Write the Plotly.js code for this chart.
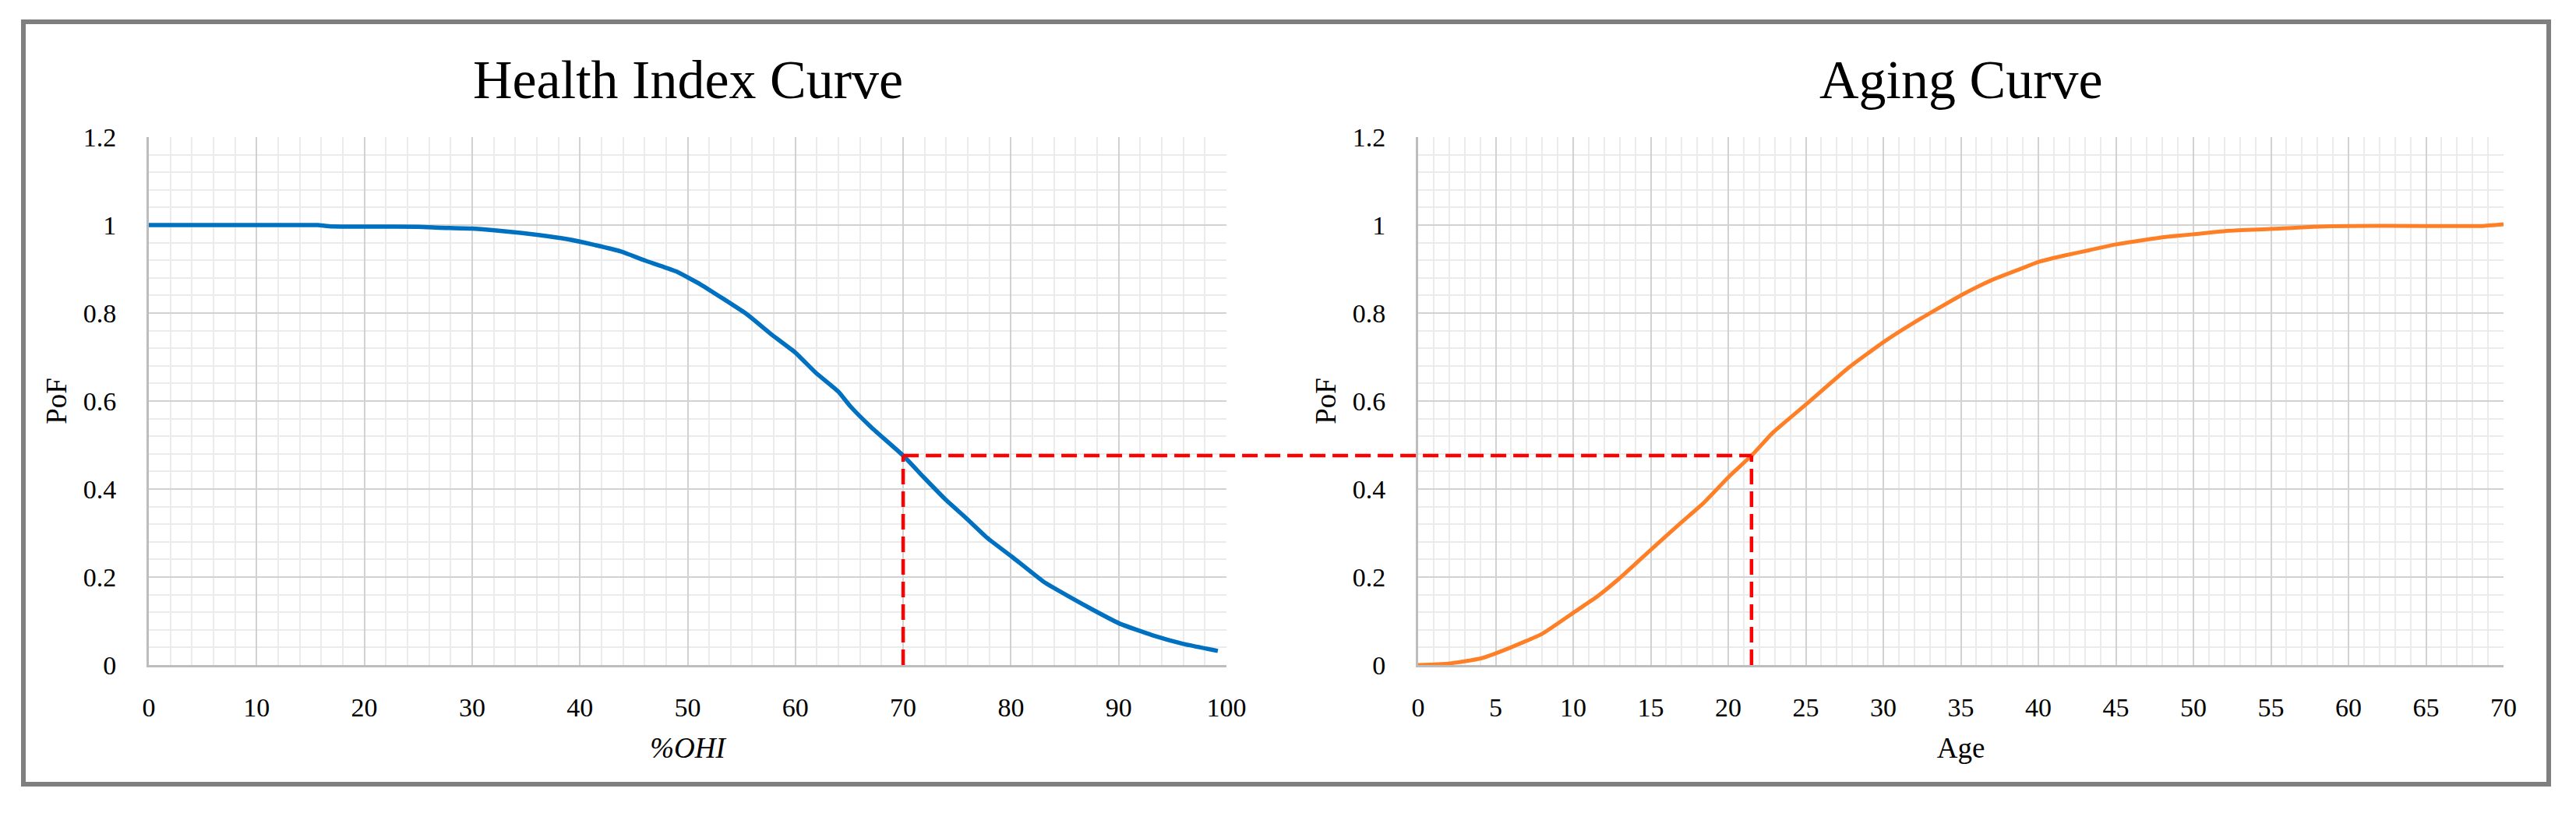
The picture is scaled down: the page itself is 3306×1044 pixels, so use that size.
<!DOCTYPE html>
<html lang="en">
<head>
    <meta charset="UTF-8">
    <title>Health Index Curve and Aging Curve</title>
    <script src="https://cdn.plot.ly/plotly-3.0.1.min.js"></script>
    <style>
        body { margin: 0; background: white; }
        #chart { width: 3306px; height: 1044px; }
    </style>
</head>
<body>
    <div id="chart"></div>
    <script>
        // Health index curve: %OHI vs PoF
        let ohiX = [0, 5, 10, 15, 15.7, 17, 25, 27, 30, 33, 36, 38.8, 41.5, 43.8, 46.1, 48.9, 51.2, 55.4, 57.7, 60,
                    61.9, 64, 65.1, 67.1, 70, 71.9, 73.9, 75.8, 77.8, 80.1, 83, 85.3, 87.5, 90.1, 93.1, 96, 99.2];
        let ohiPoF = [1, 1, 1, 1, 1, 0.997, 0.996, 0.994, 0.992, 0.986, 0.978, 0.968, 0.954, 0.94, 0.919, 0.895, 0.865, 0.799, 0.753, 0.71,
                      0.664, 0.621, 0.588, 0.539, 0.476, 0.427, 0.377, 0.335, 0.289, 0.246, 0.19, 0.157, 0.127, 0.094, 0.068, 0.048, 0.032];

        // Aging curve: Age vs PoF
        let ageX = [0, 1.9, 4.05, 5.7, 8, 10.1, 11.6, 12.95, 15.1, 17, 18.4, 20.1, 21.5, 22.9, 25.1, 27.8, 30.1, 32.3, 35.1,
                    37, 38.9, 40, 41.7, 43.3, 45, 46.8, 48.2, 50, 52.3, 55, 57.7, 60.1, 65, 68.6, 70];
        let agePoF = [0, 0.003, 0.015, 0.036, 0.071, 0.121, 0.157, 0.196, 0.265, 0.325, 0.368, 0.43, 0.476, 0.529, 0.595, 0.677, 0.736, 0.785, 0.842,
                      0.875, 0.901, 0.916, 0.931, 0.943, 0.956, 0.966, 0.973, 0.979, 0.987, 0.991, 0.996, 0.998, 0.998, 0.998, 1.002];

        // reading of the example point
        let ohiPoint = 70, pofPoint = 0.476, agePoint = 21.5;

        let W = 3306, H = 1044;
        let leftDom = [191 / W, 1574 / W];
        let rightDom = [1820 / W, 3213 / W];
        let yDom = [(H - 854) / H, (H - 176) / H];
        let ohiRange = [0, 100], ageRange = [0, 70];

        function toPaper(dom, range, v) {
            return dom[0] + (v - range[0]) / (range[1] - range[0]) * (dom[1] - dom[0]);
        }

        let serif = "Liberation Serif, Times New Roman, serif";
        let tickFont = {family: serif, size: 34, color: "#000"};
        let titleFont = {family: serif, size: 37, color: "#000"};

        function xAxis(dom, range, major, minor, title) {
            return {
                domain: dom, range: range, dtick: major, tick0: 0,
                showgrid: true, gridcolor: "#d2d2d2", gridwidth: 2,
                minor: {dtick: minor, tick0: 0, showgrid: true, gridcolor: "#ebebeb", gridwidth: 2},
                showline: true, linecolor: "#bdbdbd", linewidth: 3,
                zeroline: false, ticks: "", ticklabelstandoff: 22,
                tickfont: tickFont, fixedrange: true,
                title: {text: title, font: titleFont, standoff: 22}
            };
        }

        function yAxis(anchor) {
            return {
                domain: yDom, range: [0, 1.2], dtick: 0.2, tick0: 0, anchor: anchor,
                showgrid: true, gridcolor: "#d2d2d2", gridwidth: 2,
                minor: {dtick: 0.04, tick0: 0, showgrid: true, gridcolor: "#ebebeb", gridwidth: 2},
                showline: true, linecolor: "#bdbdbd", linewidth: 3,
                zeroline: false, ticks: "", ticklabelstandoff: 32,
                tickfont: tickFont, fixedrange: true,
                title: {text: "PoF", font: titleFont, standoff: 10}
            };
        }

        let traces = [
            {x: ohiX, y: ohiPoF, xaxis: "x", yaxis: "y", mode: "lines",
             line: {color: "#0070c0", width: 5.5, shape: "spline", smoothing: 0.4}},
            {x: ageX, y: agePoF, xaxis: "x2", yaxis: "y2", mode: "lines",
             line: {color: "#ff7f27", width: 5, shape: "spline", smoothing: 0.4}}
        ];

        let dashLine = {color: "#ff0000", width: 4.5, dash: "20px,9px"};

        let layout = {
            width: W, height: H,
            margin: {l: 0, r: 0, t: 0, b: 0},
            paper_bgcolor: "white", plot_bgcolor: "white",
            showlegend: false,
            font: {family: serif, color: "#000"},
            xaxis: xAxis(leftDom, ohiRange, 10, 2, "<i>%OHI</i>"),
            yaxis: yAxis("x"),
            xaxis2: xAxis(rightDom, ageRange, 5, 1, "Age"),
            yaxis2: yAxis("x2"),
            annotations: [
                {text: "Health Index Curve", xref: "paper", yref: "paper",
                 x: (leftDom[0] + leftDom[1]) / 2, y: (H - 102) / H, xanchor: "center", yanchor: "middle",
                 showarrow: false, font: {family: serif, size: 70, color: "#000"}},
                {text: "Aging Curve", xref: "paper", yref: "paper",
                 x: (rightDom[0] + rightDom[1]) / 2, y: (H - 102) / H, xanchor: "center", yanchor: "middle",
                 showarrow: false, font: {family: serif, size: 70, color: "#000"}}
            ],
            shapes: [
                // outer frame
                {type: "rect", xref: "paper", yref: "paper", x0: 30 / W, x1: 3271 / W, y0: (H - 1007) / H, y1: (H - 28) / H,
                 line: {color: "#7f7f7f", width: 6}, layer: "below"},
                // read-off lines
                {type: "line", xref: "x", yref: "y", x0: ohiPoint, x1: ohiPoint, y0: 0, y1: pofPoint, line: dashLine},
                {type: "line", xref: "paper", yref: "y",
                 x0: toPaper(leftDom, ohiRange, ohiPoint), x1: toPaper(rightDom, ageRange, agePoint),
                 y0: pofPoint, y1: pofPoint, line: dashLine},
                {type: "line", xref: "x2", yref: "y2", x0: agePoint, x1: agePoint, y0: 0, y1: pofPoint, line: dashLine}
            ]
        };

        Plotly.newPlot("chart", traces, layout, {staticPlot: true});
    </script>
</body>
</html>
